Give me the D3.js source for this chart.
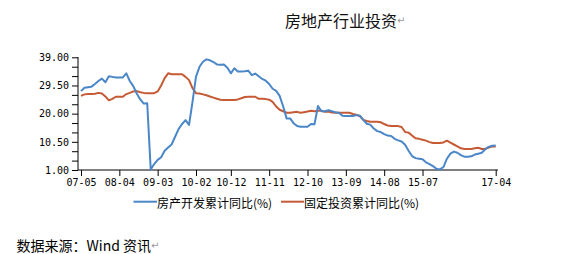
<!DOCTYPE html>
<html><head><meta charset="utf-8">
<script src="https://cdn.jsdelivr.net/npm/d3@7"></script>
<style>body{margin:0;background:#fff}svg{display:block}</style>
</head><body>
<svg id="c" width="575" height="254"></svg>
<script>
const startYear = 2007, startMonth = 5, monthCount = 120;
const tickLabels = ["07-05","08-04","09-03","10-02","10-12","11-11","12-10","13-09","14-08","15-07","17-04"];
const yTicks = [1.00, 10.50, 20.00, 29.50, 39.00];
const seriesNames = ["房产开发累计同比(%)", "固定投资累计同比(%)"];
const realEstate = [27.6,28.7,28.9,29.1,30.0,31.0,31.8,30.6,32.6,32.4,32.2,32.2,32.2,33.6,31.0,29.3,26.8,24.8,23.4,23.5,
1.2,3.0,4.4,5.3,7.5,8.6,9.6,12.2,14.8,16.5,17.8,16.2,24.0,32.5,35.8,37.5,38.3,38.0,37.4,36.6,
36.5,36.6,35.5,33.6,35.3,34.2,34.2,34.3,34.5,33.0,33.5,32.6,31.7,31.1,30.0,28.4,27.7,26.0,22.5,18.4,
18.4,16.8,15.8,15.6,15.6,15.6,16.5,16.4,22.6,20.8,20.8,21.2,20.8,20.5,20.3,19.3,19.2,19.2,19.2,19.5,
19.3,17.9,16.6,16.3,15.0,14.1,13.8,13.1,12.6,12.5,11.5,11.0,10.6,9.5,7.5,5.7,5.0,4.8,4.6,3.6,
3.0,2.3,1.4,1.2,2.0,4.8,6.5,7.2,6.8,6.0,5.5,5.5,5.6,6.2,6.5,6.8,8.0,8.8,9.2,9.3];
const fixedInvest = [26.0,26.5,26.6,26.6,26.7,27.0,26.8,25.8,24.5,25.0,25.7,25.7,25.7,26.6,27.0,27.5,27.6,27.2,27.0,26.9,
26.9,26.9,27.5,29.5,32.0,33.6,33.3,33.3,33.3,33.3,32.4,31.3,28.6,26.9,26.8,26.5,26.2,25.8,25.4,25.0,
24.7,24.6,24.6,24.6,24.6,24.8,25.2,25.6,25.7,25.7,25.7,25.0,25.0,24.9,24.7,24.0,22.4,21.3,20.8,20.3,
20.3,20.5,20.6,20.3,20.5,20.7,21.0,20.8,21.0,21.0,20.6,20.7,20.4,20.3,20.3,20.3,20.3,20.3,19.9,19.6,
19.2,17.9,17.5,17.3,17.3,17.3,17.1,16.5,16.0,15.8,15.8,15.8,15.5,13.8,13.6,12.6,11.7,11.5,11.2,10.9,
10.4,10.1,10.1,10.1,10.3,10.9,10.2,9.6,9.0,8.3,8.1,8.1,8.1,8.3,8.5,8.1,8.1,8.6,8.9,8.9];
const colors = ["#4a86c8", "#c55a35"];

function label(i){
  const m = startMonth - 1 + i;
  const y = (startYear + Math.floor(m/12)) % 100;
  const mm = m % 12 + 1;
  return String(y).padStart(2,"0") + "-" + String(mm).padStart(2,"0");
}
const idx = d3.range(monthCount);
const tickIdx = idx.filter(i => tickLabels.includes(label(i)));

const svg = d3.select("#c");
const x = d3.scaleLinear().domain([0, monthCount-1]).range([81, 495.7]);
const y = d3.scaleLinear().domain([1, 39]).range([170, 57.3]);
const monoFont = "'DejaVu Sans Mono', monospace";
const cjk = "'Noto Sans CJK SC', sans-serif";

// title
const t = svg.append("text").attr("x",285).attr("y",20).attr("dominant-baseline","central")
  .attr("font-family",cjk).attr("font-size",16).attr("fill","#111").text("房地产行业投资");
t.append("tspan").attr("fill","#999").attr("font-size",10).attr("font-family","'DejaVu Sans'").text("↵");

// y axis
const yMinor = d3.range(0, 13).map(k => 1 + k*9.5/3);
const yAx = svg.append("g").attr("transform","translate(78,0)")
  .call(d3.axisLeft(y).tickValues(yMinor).tickSize(6).tickPadding(3)
    .tickFormat(v => yTicks.some(t => Math.abs(t-v)<1e-6) ? v.toFixed(2) : ""));
yAx.select(".domain").attr("d","M0,57V170").attr("stroke","#000");
yAx.selectAll("line").attr("stroke","#000");
yAx.selectAll("text").attr("font-family",monoFont).attr("font-size",10).attr("fill","#000");

// x axis
const xAx = svg.append("g").attr("transform","translate(0,170)")
  .call(d3.axisBottom(x).tickValues(tickIdx).tickSize(6).tickPadding(3).tickFormat(i => label(i)));
xAx.select(".domain").attr("d","M78,0H498").attr("stroke","#000");
xAx.selectAll("line").attr("stroke","#000");
xAx.selectAll("text").attr("font-family",monoFont).attr("font-size",10).attr("fill","#000");

// lines
const line = d3.line().x((d,i)=>x(i)).y(d=>y(d));
[fixedInvest, realEstate].forEach((s,k)=>{
  svg.append("path").attr("d", line(s)).attr("fill","none")
    .attr("stroke", k===0 ? colors[1] : colors[0]).attr("stroke-width",2).attr("stroke-linejoin","round");
});

// legend
const leg = [{x:133.5, tx:157, n:seriesNames[0], c:colors[0]},{x:281, tx:304, n:seriesNames[1], c:colors[1]}];
leg.forEach(l=>{
  svg.append("line").attr("x1",l.x).attr("x2",l.tx).attr("y1",201.7).attr("y2",201.7)
    .attr("stroke",l.c).attr("stroke-width",2);
  svg.append("text").attr("x",l.tx).attr("y",202.5).attr("dominant-baseline","central")
    .attr("font-family",cjk).attr("font-size",12).attr("fill","#000").text(l.n);
});

// source
const s = svg.append("text").attr("x",16.5).attr("y",244.5).attr("dominant-baseline","central")
  .attr("font-family",cjk).attr("font-size",14).attr("fill","#000").text("数据来源：Wind 资讯");
s.append("tspan").attr("fill","#999").attr("font-size",10).attr("font-family","'DejaVu Sans'").text("↵");
</script>
</body></html>
